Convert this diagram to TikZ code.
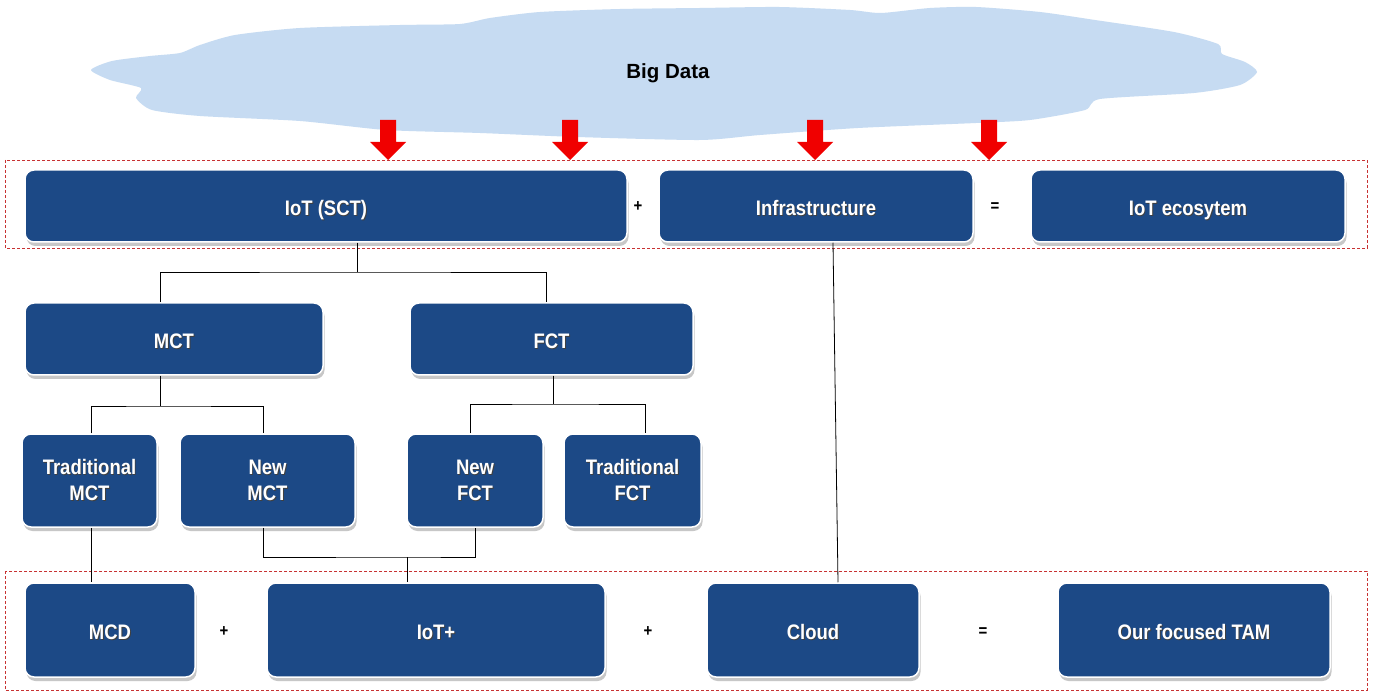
\documentclass[tikz,border=0pt]{standalone}
\usepackage{fontspec}
\setmainfont{Liberation Sans}[FakeStretch=0.88]
\newfontfamily\plainsans{Liberation Sans}
\usetikzlibrary{shadows,calc}
\definecolor{boxblue}{RGB}{28,73,134}
\definecolor{cloudblue}{RGB}{198,219,242}
\definecolor{framered}{RGB}{200,50,50}
\definecolor{arrowred}{RGB}{240,0,0}
\newcommand\shtxt[1]{\makebox[0pt][l]{\kern0.9pt\raisebox{-0.9pt}{\textcolor{black!75}{#1}}}#1}
\tikzset{
  blk/.style={draw=white, line width=1.5pt, fill=boxblue, rounded corners=9pt,
    text=white, font=\bfseries\fontsize{21}{26}\selectfont, align=center,
    inner sep=0pt,
    drop shadow={shadow xshift=1.5pt, shadow yshift=-4pt, fill=black!22, opacity=1}},
  oneline/.style={text height=19pt, text depth=0pt},
  op/.style={font=\bfseries\fontsize{17}{17}\selectfont, text=black, inner sep=0pt},
  frame/.style={draw=framered, dashed, dash pattern=on 3pt off 2pt, line width=0.7pt},
  link/.style={draw=black, line width=0.8pt},
  downarrow/.style={fill=arrowred, draw=none}
}
\begin{document}
\begin{tikzpicture}[x=1pt, y=-1pt]
\useasboundingbox (0,0) rectangle (1373,692);
\fill[white] (0,0) rectangle (1373,692);

% cloud
\fill[cloudblue] plot[smooth cycle, tension=0.4] coordinates {
 (91,70) (112,61) (150,56) (180,53) (200,45) (235,35) (300,28) (400,25)
 (460,24) (490,18) (540,12) (620,9) (700,8) (779,7) (850,10) (881,13)
 (930,8) (976,7) (1040,12) (1095,20) (1174,32) (1218,44) (1222,54)
 (1245,62) (1257,72) (1240,85) (1194,93) (1100,99) (1085,110) (1030,120)
 (976,123) (858,128) (760,135) (700,140) (577,137) (480,133) (386,130)
 (300,121) (200,116) (152,110) (136,98) (141,88) (110,80)};
\node[font=\plainsans\bfseries\fontsize{20.5}{20.5}\selectfont] (bigdata) at (668,73) {Big Data};

% dashed frames
\draw[frame] (5,160) rectangle (1367,248);
\draw[frame] (5,571) rectangle (1367,690);

% red arrows
\foreach \ax in {388,570,815,989}{
  \fill[downarrow] (\ax-8,120) -- (\ax+8,120) -- (\ax+8,142) -- (\ax+18,142)
    -- (\ax,160) -- (\ax-18,142) -- (\ax-8,142) -- cycle;
}

% top row
\node[blk, oneline, minimum width=602pt, minimum height=72pt] (sct) at (326,206) {\shtxt{IoT (SCT)}};
\node[blk, oneline, minimum width=314pt, minimum height=72pt] (infra) at (816,206) {\shtxt{Infrastructure}};
\node[blk, oneline, minimum width=314pt, minimum height=72pt] (eco) at (1188,206) {\shtxt{IoT ecosytem}};
\node[op] (p1) at (638,207) {+};
\node[op] (e1) at (995,207) {=};

% second row
\node[blk, oneline, minimum width=298pt, minimum height=72pt] (mct) at (174,339) {\shtxt{MCT}};
\node[blk, oneline, minimum width=283pt, minimum height=72pt] (fct) at (551.5,339) {\shtxt{FCT}};

% third row
\node[blk, minimum width=135pt, minimum height=93pt] (tmct) at (89.5,480.5) {\shtxt{Traditional}\\\shtxt{MCT}};
\node[blk, minimum width=175pt, minimum height=93pt] (nmct) at (267.5,480.5) {\shtxt{New}\\\shtxt{MCT}};
\node[blk, minimum width=136pt, minimum height=93pt] (nfct) at (475,480.5) {\shtxt{New}\\\shtxt{FCT}};
\node[blk, minimum width=137pt, minimum height=93pt] (tfct) at (632.5,480.5) {\shtxt{Traditional}\\\shtxt{FCT}};

% bottom row
\node[blk, oneline, minimum width=170pt, minimum height=94pt] (mcd) at (110,630) {\shtxt{MCD}};
\node[blk, oneline, minimum width=338pt, minimum height=94pt] (iotp) at (436,630) {\shtxt{IoT+}};
\node[blk, oneline, minimum width=212pt, minimum height=94pt] (cloud) at (813,630) {\shtxt{Cloud}};
\node[blk, oneline, minimum width=272pt, minimum height=94pt] (tam) at (1194,630) {\shtxt{Our focused TAM}};
\node[op] (p2) at (224,632) {+};
\node[op] (p3) at (648,632) {+};
\node[op] (e2) at (983,632) {=};

% tree connectors
\coordinate (b1) at (357,272);
\draw[link] ([xshift=31pt]sct.south) -- (b1);
\draw[link] ([xshift=-14pt]mct.north) |- (b1) -| ([xshift=-5.5pt]fct.north);

\coordinate (b2) at (160,406);
\draw[link] ([xshift=-14pt]mct.south) -- (b2);
\draw[link] ([xshift=1.5pt]tmct.north) |- (b2) -| ([xshift=-4.5pt]nmct.north);

\coordinate (b3) at (553,404);
\draw[link] ([xshift=1.5pt]fct.south) -- (b3);
\draw[link] ([xshift=-5pt]nfct.north) |- (b3) -| ([xshift=12.5pt]tfct.north);

\coordinate (b4) at (407,557);
\draw[link] ([xshift=-4.5pt]nmct.south) |- (b4) -| (nfct.south);
\draw[link] (b4) -- ([xshift=-29pt]iotp.north);

\draw[link] ([xshift=1.5pt]tmct.south) -- ([xshift=-19pt]mcd.north);
\draw[link] ([xshift=17pt]infra.south) -- ([xshift=25pt]cloud.north);
\end{tikzpicture}
\end{document}
